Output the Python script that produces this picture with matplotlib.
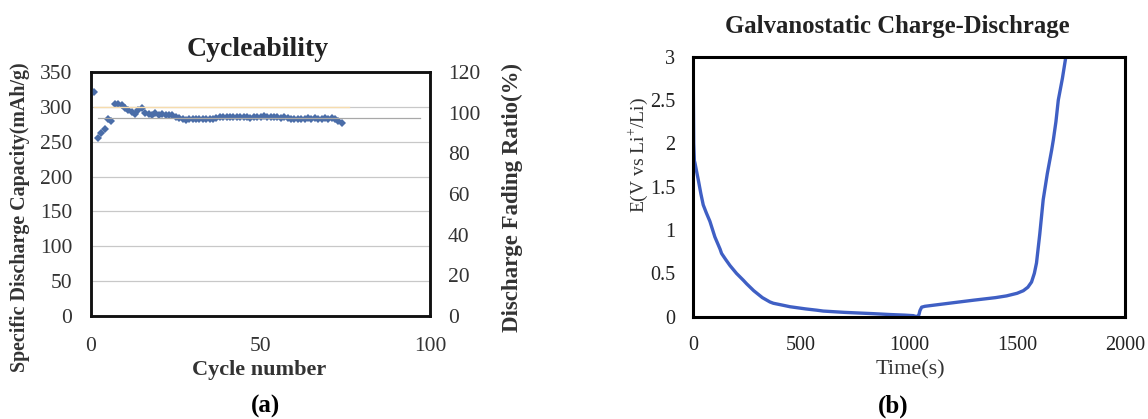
import matplotlib
matplotlib.use("Agg")
import matplotlib.pyplot as plt

# ---- (a) Cycleability data ----
cycles = list(range(1, 75))
capacity = [322, 256, 262, 268, 282, 280, 304, 304, 302, 299,
            296, 292, 290, 295, 298, 291, 290, 289, 291, 289,
            290, 289, 289, 288, 286, 284, 282, 281, 282, 282,
            283, 282, 283, 282, 283, 282, 284, 285, 285, 286,
            286, 285, 286, 285, 286, 285, 284, 286, 285, 286,
            287, 285, 286, 285, 286, 284, 285, 284, 282, 282,
            283, 283, 283, 284, 283, 284, 283, 283, 284, 283,
            284, 283, 279, 277]
ratio_cycles = [2, 97]
ratio_values = [97.4, 97.4]
ratio2_cycles = [1, 76]
ratio2_values = [102.6, 102.6]

cap_ticks = [0, 50, 100, 150, 200, 250, 300, 350]
ratio_ticks = [0, 20, 40, 60, 80, 100, 120]
cycle_ticks = [0, 50, 100]

# ---- (b) Galvanostatic charge-discharge data ----
time_s = [0, 2, 5, 8, 15, 23, 35, 46, 60, 77, 100, 124, 131, 150, 170, 200,
          232, 247, 280, 320, 355, 371, 410, 448, 520, 572, 602, 700, 834,
          911, 980, 1019, 1035, 1045, 1050, 1058, 1073, 1200, 1297, 1400,
          1451, 1500, 1529, 1550, 1567, 1580, 1590, 1605, 1621, 1640, 1660,
          1668, 1680, 1691, 1710, 1726]
voltage = [2.65, 2.0, 1.8, 1.77, 1.68, 1.58, 1.42, 1.29, 1.2, 1.1, 0.92,
           0.78, 0.73, 0.66, 0.59, 0.5, 0.42, 0.38, 0.3, 0.22, 0.17, 0.155,
           0.135, 0.115, 0.09, 0.075, 0.065, 0.05, 0.035, 0.025, 0.018,
           0.012, 0.0, 0.02, 0.07, 0.11, 0.12, 0.16, 0.19, 0.22, 0.24, 0.27,
           0.3, 0.34, 0.4, 0.5, 0.62, 0.95, 1.35, 1.65, 1.92, 2.04, 2.25,
           2.5, 2.75, 3.0]
time_ticks = [0, 500, 1000, 1500, 2000]
volt_ticks = [0, 0.5, 1, 1.5, 2, 2.5, 3]

SERIF = ["Liberation Serif", "DejaVu Serif"]
plt.rcParams["font.family"] = SERIF
plt.rcParams["mathtext.fontset"] = "custom"
plt.rcParams["mathtext.rm"] = "Liberation Serif"

W, H = 1148, 419
fig = plt.figure(figsize=(W / 100, H / 100), dpi=100)


def px(x, y):
    """Pixel position (from top-left) to figure fraction."""
    return x / W, 1 - y / H


# ---------- panel (a) ----------
ax = fig.add_axes([91 / W, 1 - 316 / H, (430 - 91) / W, (316 - 72) / H])
ax.set_xlim(0, 100)
ax.set_ylim(0, 350)
ax.set_xticks(cycle_ticks)
ax.set_yticks(cap_ticks)
ax.grid(axis="y", color="#c8c8c8", linewidth=0.9)
ax.set_axisbelow(True)
ax.plot(cycles, capacity, linestyle="none", marker="D",
        markersize=4.4, color="#4a6da8", markeredgewidth=0, zorder=3)
ax.tick_params(axis="x", length=0, labelsize=15.5, colors="#333333", pad=15)
ax.tick_params(axis="y", length=0, labelsize=15.5, colors="#333333", pad=13.5)
for s in ax.spines.values():
    s.set_linewidth(1.8)
    s.set_color("#111111")

ax2 = ax.twinx()
ax2.set_ylim(0, 120)
ax2.set_yticks(ratio_ticks)
ax2.plot(ratio2_cycles, ratio2_values, color="#f6dcae", linewidth=1.0)
ax2.plot(ratio_cycles, ratio_values, color="#a8a8a8", linewidth=0.9)
ax2.tick_params(length=0, labelsize=15.5, colors="#333333", pad=13)
for s in ax2.spines.values():
    s.set_linewidth(1.8)
    s.set_color("#111111")

fig.text(*px(258, 49), "Cycleability", fontsize=20, fontweight="bold",
         color="#222222", ha="center", va="center")
fig.text(*px(20, 217), "Specific Discharge Capacity(mAh/g)", fontsize=14.4,
         fontweight="bold", color="#333333", rotation=90,
         ha="center", va="center")
fig.text(*px(512, 197), "Discharge Fading Ratio(%)", fontsize=16.5,
         fontweight="bold", color="#333333", rotation=90,
         ha="center", va="center")
fig.text(*px(259, 370), "Cycle number", fontsize=16, fontweight="bold",
         color="#333333", ha="center", va="center")
fig.text(*px(265, 406), "(a)", fontsize=18, fontweight="bold",
         ha="center", va="center")

# ---------- panel (b) ----------
bx = fig.add_axes([693.3 / W, 1 - 316.7 / H, (1125 - 693.3) / W, 260 / H])
bx.plot(time_s, voltage, color="#3f5fc4", linewidth=2.4,
        solid_capstyle="round", solid_joinstyle="round")
bx.set_xlim(0, 2000)
bx.set_ylim(0, 3)
bx.set_xticks(time_ticks)
bx.set_yticks(volt_ticks)
bx.set_yticklabels(["0", "0.5", "1", "1.5", "2", "2.5", "3"])
bx.tick_params(axis="x", length=0, labelsize=14.5, colors="#222222", pad=14)
bx.tick_params(axis="y", length=0, labelsize=14.5, colors="#222222", pad=13)
for s in bx.spines.values():
    s.set_linewidth(2.2)
    s.set_color("#000000")

fig.text(*px(897, 27), "Galvanostatic Charge-Dischrage", fontsize=17.8,
         fontweight="bold", color="#222222", ha="center", va="center")
fig.text(*px(638, 155), "E(V vs Li$^{+}$/Li)", fontsize=14, color="#333333",
         rotation=90, ha="center", va="center")
fig.text(*px(910, 370), "Time(s)", fontsize=16, color="#333333",
         ha="center", va="center")
fig.text(*px(893, 406), "(b)", fontsize=18, fontweight="bold",
         ha="center", va="center")

fig.savefig("out.png", dpi=100)
